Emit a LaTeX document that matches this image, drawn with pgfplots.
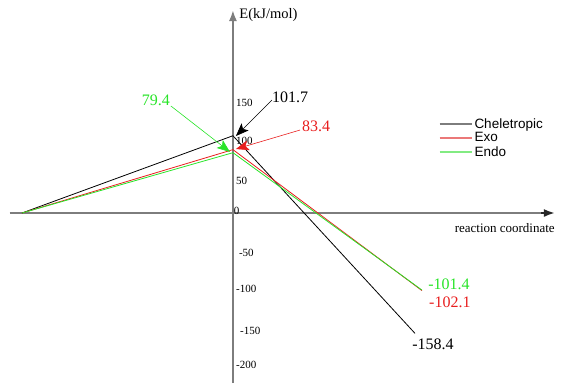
\documentclass[border=0pt]{standalone}
\usepackage{fontspec}
\setmainfont{Liberation Serif}
\newfontfamily\arialf{Liberation Sans}
\usepackage{pgfplots}
\pgfplotsset{compat=1.18}
\usetikzlibrary{arrows.meta}
\definecolor{cred}{RGB}{232,30,30}
\definecolor{cgreen}{RGB}{40,228,40}
\definecolor{axgray}{RGB}{125,125,125}
\definecolor{lgred}{RGB}{235,120,120}
\definecolor{lggreen}{RGB}{130,235,130}
\begin{document}
\begin{tikzpicture}
\begin{axis}[
  width=564pt, height=387pt, scale only axis,
  xmin=-1.104, xmax=1.569, ymin=-228.9, ymax=280.3,
  axis lines=none, clip=false,
  legend style={at={(axis description cs:0.778,0.70)}, anchor=north west, draw=none, fill=none,
    font=\arialf\fontsize{13.5}{14}\selectfont, row sep=-1pt, inner sep=0pt},
  legend cell align=left,
  legend image code/.code={\draw[#1] (0pt,0pt) -- (32pt,0pt);},
]
% axes
\draw[axgray, line width=2pt, -{Latex[length=11pt,width=8pt]}, black!85] (axis cs:-1.057,0) -- (axis cs:1.526,0);
\draw[axgray, line width=2pt] (axis cs:-1.057,0) -- (axis cs:1.46,0);
\draw[axgray, line width=2pt, -{Latex[length=11pt,width=8pt]}] (axis cs:0,-223.7) -- (axis cs:0,267.1);
% data
\addplot[black, line width=0.8pt, forget plot] coordinates {(-1,0) (0,101.7) (0.863,-158.4)};
\addplot[cred, line width=0.8pt, forget plot] coordinates {(-1,0) (0,83.4) (0.896,-102.1)};
\addplot[cgreen, line width=0.8pt, forget plot] coordinates {(-1,0) (0,79.4) (0.896,-101.4)};
\addlegendimage{axgray, line width=1.5pt}
\addlegendentry{Cheletropic}
\addlegendimage{lgred, line width=1.5pt}
\addlegendentry{Exo}
\addlegendimage{lggreen, line width=1.5pt}
\addlegendentry{Endo}
% tick labels
\begin{scope}[every node/.style={anchor=west, inner sep=0pt, font=\fontsize{11}{12}\selectfont}]
\node at (axis cs:0.014,145) {150};
\node at (axis cs:0.014,95) {100};
\node at (axis cs:0.014,42) {50};
\node at (axis cs:0.004,3) {0};
\node at (axis cs:0.028,-52) {-50};
\node at (axis cs:0.014,-100) {-100};
\node at (axis cs:0.033,-155) {-150};
\node at (axis cs:0.014,-200) {-200};
\end{scope}
% axis labels
\node[anchor=west, inner sep=0pt, font=\fontsize{14.5}{16}\selectfont] at (axis cs:0.03,261) {E(kJ/mol)};
\node[anchor=east, inner sep=0pt, font=\fontsize{13}{14}\selectfont] at (axis cs:1.526,-19.7) {reaction coordinate};
% annotations
\begin{scope}[every node/.style={inner sep=0pt, font=\fontsize{16}{18}\selectfont}]
\node[anchor=west, black] at (axis cs:0.185,152.6) {101.7};
\draw[black, line width=0.6pt, -{Stealth[length=13pt,width=10pt,inset=3pt]}] (axis cs:0.185,148.7) -- (axis cs:0.014,101.3);
\node[anchor=west, cred] at (axis cs:0.327,114.5) {83.4};
\draw[cred, line width=0.6pt, -{Stealth[length=13pt,width=10pt,inset=3pt]}] (axis cs:0.318,109.2) -- (axis cs:0.014,84.2);
\node[cgreen] at (axis cs:-0.365,148.7) {79.4};
\draw[cgreen, line width=0.6pt, -{Stealth[length=13pt,width=10pt,inset=3pt]}] (axis cs:-0.294,140.8) -- (axis cs:-0.014,80.3);
\node[cgreen] at (axis cs:1.024,-93.4) {-101.4};
\node[cred] at (axis cs:1.028,-117.1) {-102.1};
\node[black] at (axis cs:0.948,-172.4) {-158.4};
\end{scope}
\path (rel axis cs:0,0) rectangle (rel axis cs:1,1);
\end{axis}
\end{tikzpicture}
\end{document}
